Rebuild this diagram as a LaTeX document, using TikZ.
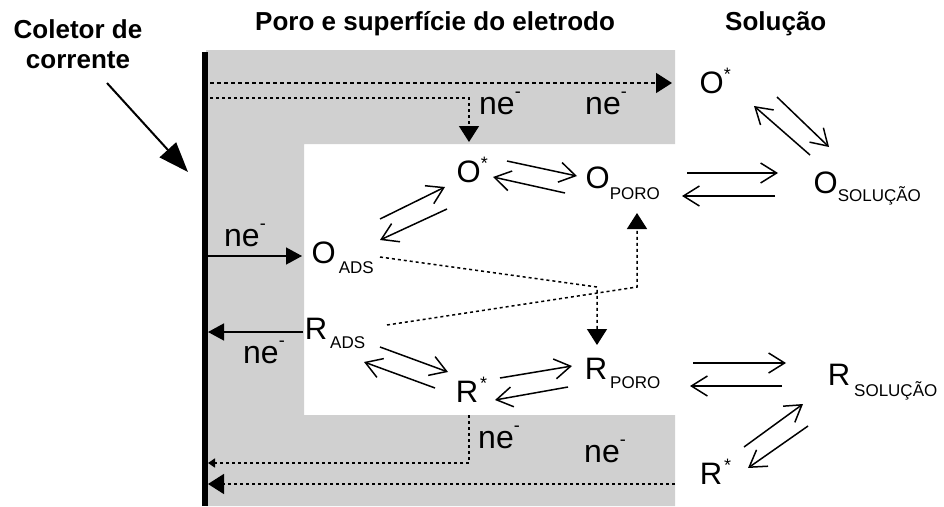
\documentclass[tikz,border=0pt]{standalone}
\usepackage{fontspec}
\setmainfont{Liberation Sans}
\usetikzlibrary{arrows.meta}
\definecolor{bg}{RGB}{208,208,208}
\newcommand{\mystar}{\raisebox{13pt}{\fontsize{18}{18}\selectfont *}}
\newcommand{\myminus}{\raisebox{17pt}{\fontsize{18}{18}\selectfont -}}
\newcommand{\mysub}[2]{\raisebox{#1}{\fontsize{17}{17}\selectfont #2}}
\begin{document}
\begin{tikzpicture}[x=1pt,y=-1pt,
  lbl/.style={anchor=base west, inner sep=0pt, font=\fontsize{31}{31}\selectfont},
  nelbl/.style={anchor=base west, inner sep=0pt, font=\fontsize{32}{32}\selectfont},
  ttl/.style={inner sep=0pt, font=\fontsize{26}{30}\selectfont\bfseries},
  eq/.style={line width=1.5pt, -{Straight Barb[length=16pt,width=20pt,line width=1.5pt]}},
  solidarr/.style={line width=1.5pt, -{Triangle[length=16pt,width=17pt]}},
  dashA/.style={line width=1.5pt, dash pattern=on 4pt off 3pt},
  dashB/.style={line width=1.5pt, dash pattern=on 3pt off 3pt},
  tri/.style={-{Triangle[length=16pt,width=20pt]}},
  smalltri/.style={-{Triangle[length=7pt,width=9pt]}}
]
\useasboundingbox (0,0) rectangle (944,506);
\fill[white] (0,0) rectangle (944,506);
% electrode body
\fill[bg] (206,50) -- (675,50) -- (675,144) -- (304,144) -- (304,415) -- (675,415) -- (675,506) -- (206,506) -- cycle;
\fill[black] (202,52) rectangle (208,506);

% titles
\node[ttl, anchor=base] (tcol1) at (78,38) {Coletor de};
\node[ttl, anchor=base] (tcol2) at (78,68) {corrente};
\node[ttl, anchor=base west] (tporo) at (255,30) {Poro e superfície do eletrodo};
\node[ttl, anchor=base west] (tsol) at (725,30) {Solução};

% species
\node[lbl] (Otop) at (699.5,93) {O\mystar};
\node[lbl] (Ostar) at (456.5,182) {O\mystar};
\node[lbl] (Oporo) at (585.5,188) {O\mysub{-11pt}{PORO}};
\node[lbl] (Osol) at (813.5,193) {O\mysub{-8pt}{SOLUÇÃO}};
\node[lbl] (Oads) at (311.5,263) {O\hspace{3pt}\mysub{-10pt}{ADS}};
\node[lbl] (Rads) at (304.6,339) {R\hspace{3pt}\mysub{-9pt}{ADS}};
\node[lbl] (Rstar) at (455.6,402) {R\hspace{2pt}\mystar};
\node[lbl] (Rporo) at (584.6,379) {R\hspace{3pt}\mysub{-9pt}{PORO}};
\node[lbl] (Rsol) at (827.6,385) {R\hspace{4pt}\mysub{-11pt}{SOLUÇÃO}};
\node[lbl] (Rbot) at (699.6,484) {R\hspace{2pt}\mystar};

% electron labels
\node[nelbl] (ne1) at (479,114) {ne\myminus};
\node[nelbl] (ne2) at (585,114) {ne\myminus};
\node[nelbl] (ne3) at (224,246) {ne\myminus};
\node[nelbl] (ne4) at (243,363) {ne\myminus};
\node[nelbl] (ne5) at (478,448) {ne\myminus};
\node[nelbl] (ne6) at (584,462) {ne\myminus};

% coordinates
\coordinate (colA) at (107,83);
\coordinate (colB) at (188,172);
\coordinate (barOads) at (208,256);
\coordinate (OadsL) at (302,256);
\coordinate (RadsL) at (303,332);
\coordinate (barRads) at (208,332);
\coordinate (t1a) at (210,83);
\coordinate (t1b) at (672,83);
\coordinate (t2a) at (210,98);
\coordinate (t2b) at (469,98);
\coordinate (t2c) at (469,142);
\coordinate (oa) at (380,257);
\coordinate (ob) at (597,287);
\coordinate (oc) at (597,345);
\coordinate (ra) at (387,325);
\coordinate (rb) at (637,287);
\coordinate (rc) at (637,213);
\coordinate (b1a) at (469,415);
\coordinate (b1b) at (469,463);
\coordinate (b1c) at (208,463);
\coordinate (b2a) at (675,484);
\coordinate (b2b) at (208,484);

% collector pointer
\draw[line width=2pt, -{Triangle[length=30pt,width=22pt]}] (colA) -- (colB);

% electron transfer arrows
\draw[solidarr] (barOads) -- (OadsL);
\draw[solidarr] (RadsL) -- (barRads);
\draw[dashA, tri] (t1a) -- (t1b);
\draw[dashB, tri] (t2a) -- (t2b) -- (t2c);
\draw[dashB, tri] (oa) -- (ob) -- (oc);
\draw[dashB, tri] (ra) -- (rb) -- (rc);
\draw[dashB, smalltri] (b1a) -- (b1b) -- (b1c);
\draw[dashB, tri] (b2a) -- (b2b);

% equilibria
\draw[eq] (507,161) -- (577,176);
\draw[eq] (565,193) -- (493,177);
\draw[eq] (380,219) -- (445,187);
\draw[eq] (447,209) -- (380,240);
\draw[eq] (687,173) -- (778,173);
\draw[eq] (775,196) -- (682,196);
\draw[eq] (777,97) -- (829,147);
\draw[eq] (810,155) -- (754,106);
\draw[eq] (380,347) -- (448,372);
\draw[eq] (435,388) -- (364,362);
\draw[eq] (500,378) -- (572,366);
\draw[eq] (568,387) -- (495,400);
\draw[eq] (693,363) -- (786,363);
\draw[eq] (782,386) -- (690,386);
\draw[eq] (744,447) -- (803,404);
\draw[eq] (808,426) -- (748,468);
\end{tikzpicture}
\end{document}
